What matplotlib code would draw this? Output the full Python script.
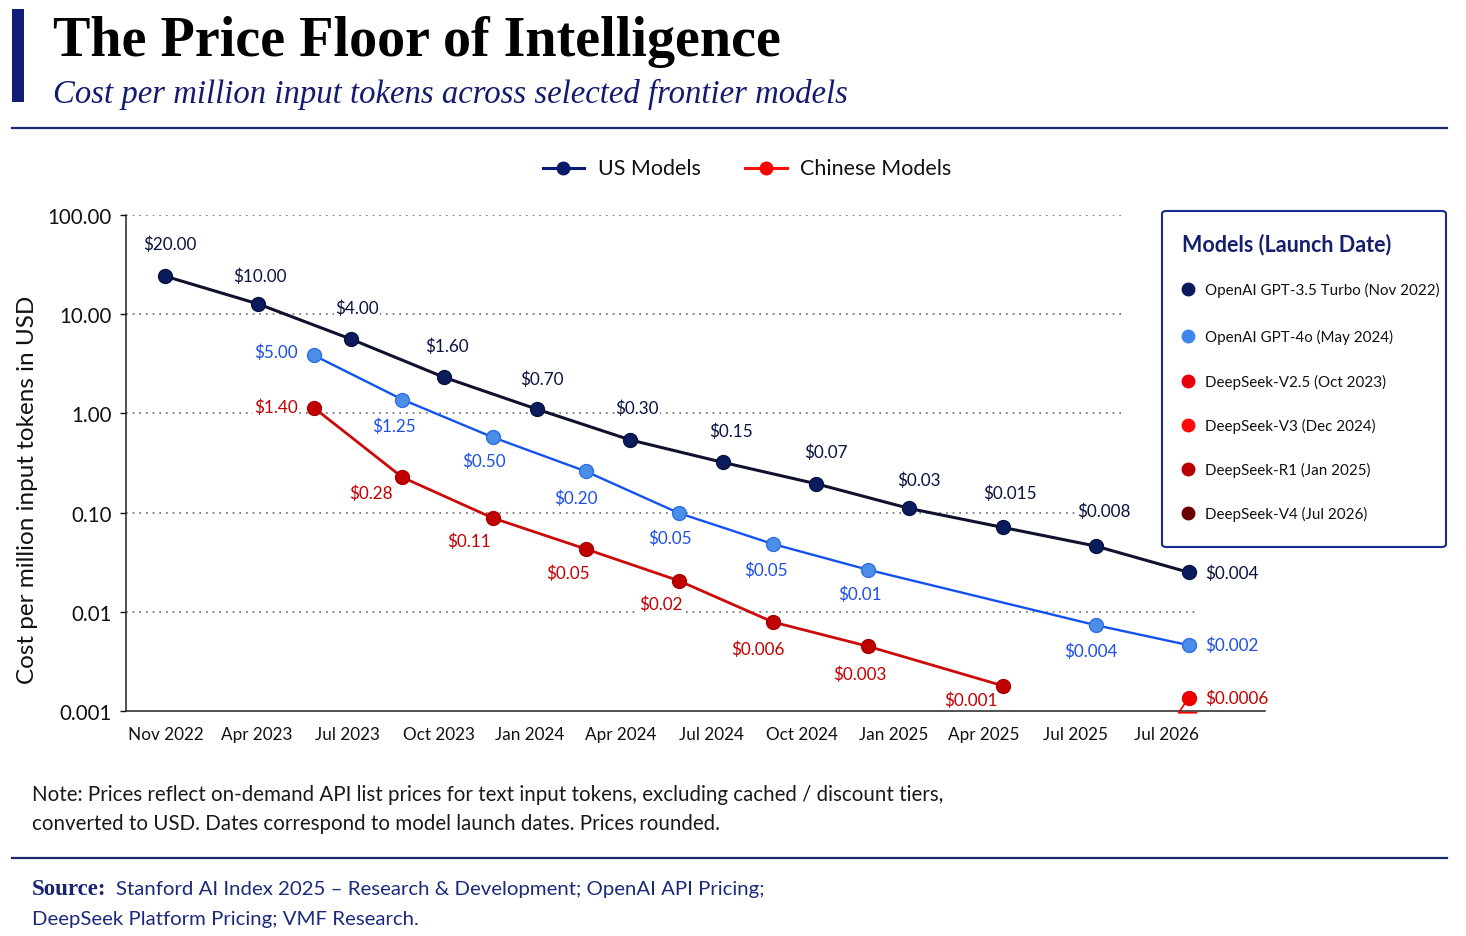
import numpy as np
import matplotlib
matplotlib.use("Agg")
import matplotlib.pyplot as plt
from matplotlib.lines import Line2D
from matplotlib.patches import FancyBboxPatch, Rectangle
import matplotlib.transforms as mtransforms

plt.rcParams['font.family'] = ['Lato', 'DejaVu Sans']

# ---------------- data ----------------
tick_labels = ["Nov 2022", "Apr 2023", "Jul 2023", "Oct 2023", "Jan 2024", "Apr 2024",
               "Jul 2024", "Oct 2024", "Jan 2025", "Apr 2025", "Jul 2025", "Jul 2026"]
y_ticks = [0.001, 0.01, 0.1, 1, 10, 100]
y_tick_labels = ["0.001", "0.01", "0.10", "1.00", "10.00", "100.00"]

us_x = [0, 1, 2, 3, 4, 5, 6, 7, 8, 9, 10, 11]
us_price = [24.2, 12.7, 5.6, 2.31, 1.10, 0.54, 0.32, 0.195, 0.11, 0.071, 0.046, 0.025]
us_labels = ["$20.00", "$10.00", "$4.00", "$1.60", "$0.70", "$0.30", "$0.15", "$0.07",
             "$0.03", "$0.015", "$0.008", "$0.004"]

gpt4o_x = [1.6, 2.55, 3.52, 4.52, 5.52, 6.53, 7.55, 10, 11]
gpt4o_price = [3.85, 1.38, 0.576, 0.261, 0.099, 0.0483, 0.0266, 0.00734, 0.00461]
gpt4o_labels = ["$5.00", "$1.25", "$0.50", "$0.20", "$0.05", "$0.05", "$0.01", "$0.004", "$0.002"]

cn_x = [1.6, 2.55, 3.52, 4.52, 5.52, 6.53, 7.55, 9]
cn_price = [1.14, 0.227, 0.0884, 0.043, 0.0206, 0.0079, 0.0045, 0.0018]
cn_labels = ["$1.40", "$0.28", "$0.11", "$0.05", "$0.02", "$0.006", "$0.003", "$0.001"]

v4_x = [11]
v4_price = [0.00136]
v4_labels = ["$0.0006"]

legend_models = ["OpenAI GPT-3.5 Turbo (Nov 2022)", "OpenAI GPT-4o (May 2024)",
                 "DeepSeek-V2.5 (Oct 2023)", "DeepSeek-V3 (Dec 2024)",
                 "DeepSeek-R1 (Jan 2025)", "DeepSeek-V4 (Jul 2026)"]

# ---------------- layout / style ----------------
W, H = 1466, 937
def fx(x): return x / W
def fy(y): return 1 - y / H

NAVY_PT = '#0B1C5E'
NAVY_LINE = '#10112E'
BLUE_LINE = '#1452F0'
BLUE_PT = '#4A8EEA'
BLUE_TXT = '#1E50E4'
RED_LINE = '#CC0A0A'
RED_PT = '#C00000'
RED_TXT = '#C40000'
V4_PT = '#F20000'
legend_colors = ['#0B1A5C', '#3D86EE', '#E8000B', '#FF0A0A', '#B80000', '#6A0000']

# label offsets in pixels (dx right, dy down) and horizontal alignment
us_off = [(5, -32), (2, -28), (6, -31), (3, -32), (5, -31), (7, -32), (8, -32), (9, -32),
          (9, -29), (7, -35), (8, -35), (16, 0)]
us_ha = ['center'] * 11 + ['left']
g_off = [(-16, -4), (-8, 26), (-9, 24), (-10, 26), (-9, 25), (-7, 26), (-8, 24), (-5, 26), (16, 0)]
g_ha = ['right'] + ['center'] * 7 + ['left']
c_off = [(-16, -1), (-31, 15), (-24, 23), (-18, 24), (-18, 23), (-15, 27), (-8, 28), (-32, 14)]
c_ha = ['right'] + ['center'] * 7
v4_off = [(16, 0)]
v4_ha = ['left']

fig = plt.figure(figsize=(W / 100, H / 100), dpi=100)
fig.patch.set_facecolor('white')
ax = fig.add_axes([fx(126), fy(712), (1265 - 126) / W, (712 - 216) / H])
ax.set_yscale('log')
ax.set_ylim(0.001, 100)
ax.set_xlim(-0.419, 11.82)
ax.set_facecolor('none')

# gridlines
x_left = ax.get_xlim()[0]
grid_ends = {100: 10.31, 10: 10.31, 1: 10.31, 0.1: 10.31, 0.01: 11.09}
for yv, xe in grid_ends.items():
    ax.hlines(yv, x_left, xe, colors='#666666', linestyles=(0, (1, 3)), lw=1.2, zorder=1)

# series
ax.plot(us_x, us_price, color=NAVY_LINE, lw=2.2, zorder=3)
ax.plot(us_x, us_price, 'o', ms=10, mfc=NAVY_PT, mec='#07123F', mew=1, zorder=4)
ax.plot(gpt4o_x, gpt4o_price, color=BLUE_LINE, lw=1.7, zorder=3)
ax.plot(gpt4o_x, gpt4o_price, 'o', ms=10, mfc=BLUE_PT, mec='#2F6FE0', mew=1, zorder=4)
ax.plot(cn_x, cn_price, color=RED_LINE, lw=2.0, zorder=3)
ax.plot(cn_x, cn_price, 'o', ms=10, mfc=RED_PT, mec='#A80000', mew=1, zorder=4)
ax.plot(v4_x, v4_price, 'o', ms=10, mfc=V4_PT, mec='#E00000', mew=1, zorder=4)

def add_labels(xs, ys, labels, offs, has, color):
    for x, y, t, (dx, dy), ha in zip(xs, ys, labels, offs, has):
        ax.annotate(t, xy=(x, y), xytext=(dx * 0.72, -dy * 0.72), textcoords='offset points',
                    ha=ha, va='center', fontsize=12.3, color=color, zorder=2,
                    bbox=dict(boxstyle='square,pad=0.05', fc='white', ec='none'))

add_labels(us_x, us_price, us_labels, us_off, us_ha, '#0A1440')
add_labels(gpt4o_x, gpt4o_price, gpt4o_labels, g_off, g_ha, BLUE_TXT)
add_labels(cn_x, cn_price, cn_labels, c_off, c_ha, RED_TXT)
add_labels(v4_x, v4_price, v4_labels, v4_off, v4_ha, RED_TXT)

# small leader below the V4 point
t_a = mtransforms.offset_copy(ax.transData, fig, x=-10 * 0.72, y=-15 * 0.72, units='points')
t_b = mtransforms.offset_copy(ax.transData, fig, x=8 * 0.72, y=-15 * 0.72, units='points')
ax.annotate('', xy=(v4_x[0], v4_price[0]), xycoords='data', xytext=(v4_x[0], v4_price[0]),
            textcoords=t_a, arrowprops=dict(arrowstyle='-', color=V4_PT, lw=1.2, shrinkA=0, shrinkB=5),
            annotation_clip=False)
ax.annotate('', xy=(v4_x[0], v4_price[0]), xycoords=t_b, xytext=(v4_x[0], v4_price[0]),
            textcoords=t_a, arrowprops=dict(arrowstyle='-', color=V4_PT, lw=1.2, shrinkA=0, shrinkB=0),
            annotation_clip=False)

# axes styling
for s in ['top', 'right']:
    ax.spines[s].set_visible(False)
for s in ['left', 'bottom']:
    ax.spines[s].set_color('#222222')
    ax.spines[s].set_linewidth(1.1)
ax.set_yticks(y_ticks)
ax.set_yticklabels(y_tick_labels)
ax.yaxis.set_minor_locator(matplotlib.ticker.NullLocator())
ax.set_xticks(0.01 + np.arange(len(tick_labels)) * 0.977)
ax.set_xticklabels(tick_labels)
ax.tick_params(axis='y', length=4.3, width=1, pad=6, labelsize=14.8, colors='#111111')
ax.tick_params(axis='x', length=0, pad=11, labelsize=12.3, colors='#111111')

fig.text(fx(28), fy(490), "Cost per million input tokens in USD", rotation=90,
         ha='center', va='center', fontsize=17.5, color='#111111')

# ---------------- header ----------------
fig.add_artist(Rectangle((fx(12), fy(103)), (24 - 12) / W, (103 - 10) / H,
                         transform=fig.transFigure, color='#111E78', lw=0))
fig.text(fx(53), fy(56), "The Price Floor of Intelligence", family='Liberation Serif',
         weight='bold', fontsize=40.4, color='#000000', va='baseline', ha='left')
fig.text(fx(53), fy(103), "Cost per million input tokens across selected frontier models",
         family='Liberation Serif', style='italic', fontsize=23.6, color='#141B6E',
         va='baseline', ha='left')
fig.add_artist(Line2D([fx(12), fx(1447)], [fy(129), fy(129)], transform=fig.transFigure,
                      color='#1B2A6B', lw=1.6))
fig.add_artist(Line2D([fx(12), fx(1447)], [fy(859), fy(859)], transform=fig.transFigure,
                      color='#1B2A6B', lw=1.6))

# top legend
fig.add_artist(Line2D([fx(543), fx(584)], [fy(169)] * 2, transform=fig.transFigure,
                      color='#0B1A7A', lw=2.2))
fig.add_artist(Line2D([fx(563)], [fy(169)], transform=fig.transFigure, marker='o', ms=9,
                      mfc='#0B1A6A', mec='#0B1A6A'))
fig.text(fx(598), fy(169), "US Models", fontsize=15.5, va='center', ha='left', color='#111111')
fig.add_artist(Line2D([fx(745), fx(787)], [fy(169)] * 2, transform=fig.transFigure,
                      color='#FF1010', lw=2.2))
fig.add_artist(Line2D([fx(766)], [fy(169)], transform=fig.transFigure, marker='o', ms=9,
                      mfc='#FF0000', mec='#FF0000'))
fig.text(fx(800), fy(169), "Chinese Models", fontsize=15.5, va='center', ha='left', color='#111111')

# model legend box
fig.add_artist(FancyBboxPatch((fx(1162), fy(548)), (1446 - 1162) / W, (548 - 212) / H,
                              boxstyle='round,pad=0,rounding_size=0.003',
                              transform=fig.transFigure, fc='white', ec='#1A2A8A', lw=1.5))
fig.text(fx(1182), fy(245), "Models (Launch Date)", fontsize=15.5, weight='bold',
         color='#14206E', va='center', ha='left')
leg_y = [290, 337, 382, 426, 470, 514]
for yy, name, col in zip(leg_y, legend_models, legend_colors):
    fig.add_artist(Line2D([fx(1188)], [fy(yy)], transform=fig.transFigure, marker='o', ms=9,
                          mfc=col, mec=col))
    fig.text(fx(1205), fy(yy), name, fontsize=10.9, color='#111111', va='center', ha='left')

# ---------------- footer ----------------
fig.text(fx(32), fy(795), "Note: Prices reflect on-demand API list prices for text input tokens, "
         "excluding cached / discount tiers,", fontsize=14.8, color='#1A1A1A', va='center', ha='left')
fig.text(fx(32), fy(824), "converted to USD. Dates correspond to model launch dates. Prices rounded.",
         fontsize=14.8, color='#1A1A1A', va='center', ha='left')
fig.text(fx(32), fy(890), "Source:", family='Liberation Serif', weight='bold', fontsize=16.5,
         color='#1B2470', va='center', ha='left')
fig.text(fx(116), fy(890), "Stanford AI Index 2025 – Research & Development; OpenAI API Pricing;",
         fontsize=14.7, color='#1B2A7A', va='center', ha='left')
fig.text(fx(32), fy(920), "DeepSeek Platform Pricing; VMF Research.",
         fontsize=14.7, color='#1B2A7A', va='center', ha='left')

fig.savefig('out.png', dpi=100, facecolor='white')
